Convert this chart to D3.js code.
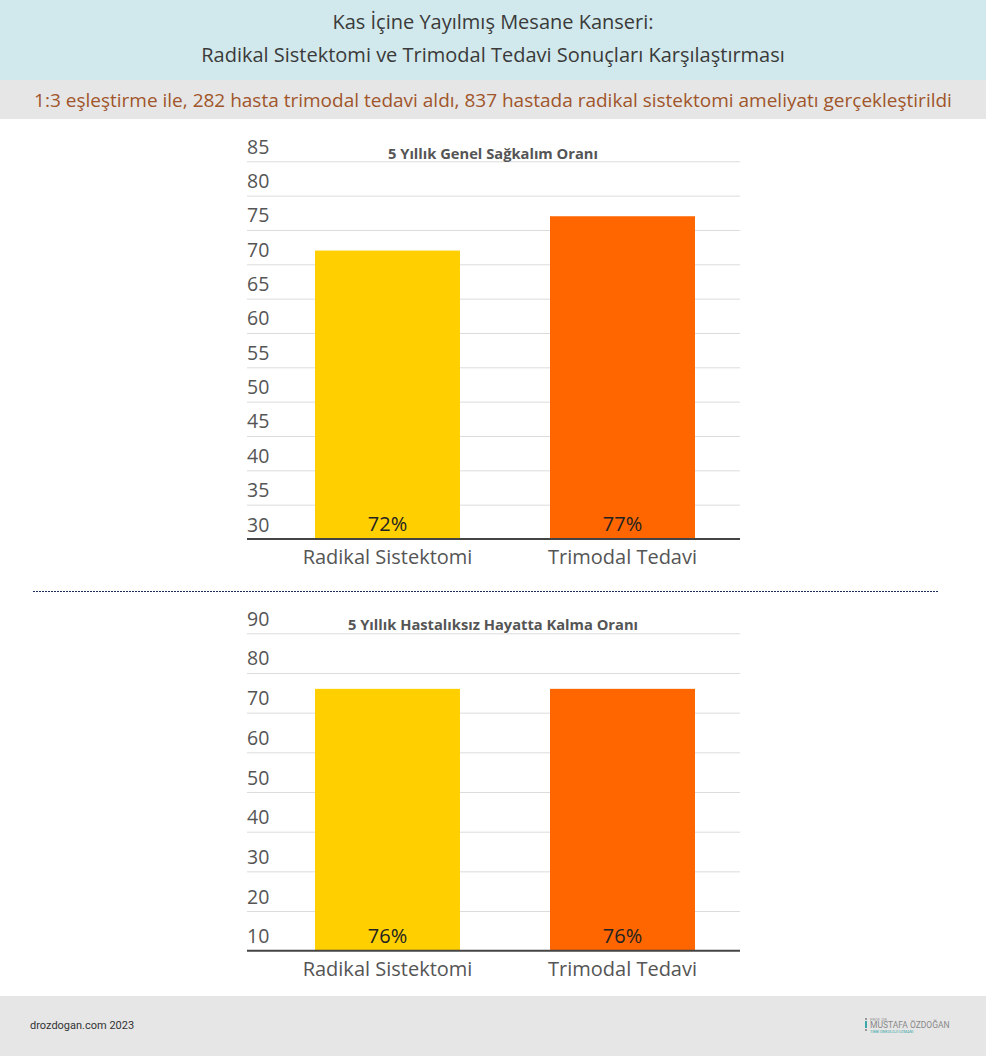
<!DOCTYPE html>
<html><head><meta charset="utf-8">
<script src="https://cdn.jsdelivr.net/npm/d3@7"></script>
<style>
html,body{margin:0;padding:0;background:#fff;}
svg{display:block;font-family:"Open Sans",sans-serif;}
</style></head>
<body>
<script>
const titleLines = ["Kas İçine Yayılmış Mesane Kanseri:", "Radikal Sistektomi ve Trimodal Tedavi Sonuçları Karşılaştırması"];
const subtitle = "1:3 eşleştirme ile, 282 hasta trimodal tedavi aldı, 837 hastada radikal sistektomi ameliyatı gerçekleştirildi";
const categories = ["Radikal Sistektomi", "Trimodal Tedavi"];
const colors = ["#ffcf00", "#ff6600"];
const osTitle = "5 Yıllık Genel Sağkalım Oranı";
const osValues = [72, 77];
const osTicks = [30, 35, 40, 45, 50, 55, 60, 65, 70, 75, 80, 85];
const dfsTitle = "5 Yıllık Hastalıksız Hayatta Kalma Oranı";
const dfsValues = [76, 76];
const dfsTicks = [10, 20, 30, 40, 50, 60, 70, 80, 90];
const footerText = "drozdogan.com 2023";

const W = 986, H = 1056;
const svg = d3.select("body").append("svg").attr("width", W).attr("height", H);

// header
svg.append("rect").attr("x",0).attr("y",0).attr("width",W).attr("height",80).attr("fill","#d1e9ec");
svg.append("rect").attr("x",0).attr("y",80).attr("width",W).attr("height",39).attr("fill","#e6e6e6");
titleLines.forEach((t,i)=>{
  svg.append("text").attr("x",493).attr("y",29+i*33).attr("text-anchor","middle")
    .attr("font-size",20).attr("fill","#3a3a3a").text(t);
});
svg.append("text").attr("x",493).attr("y",106.5).attr("text-anchor","middle")
  .attr("font-size",19).attr("fill","#a0552a").text(subtitle);

function drawChart(title, values, ticks, yTop, yBottom, titleY){
  const g = svg.append("g");
  const y = d3.scaleLinear().domain([ticks[0], ticks[ticks.length-1]]).range([yBottom, yTop]);
  const x = d3.scaleBand().domain(categories).range([270, 740]).paddingInner(0.383).paddingOuter(0.1915);
  // grid
  const axis = d3.axisLeft(y).tickValues(ticks).tickSize(0).tickFormat(d3.format("d"));
  const ag = g.append("g").attr("transform","translate(247,0)").call(axis);
  ag.select(".domain").remove();
  ag.selectAll(".tick line").attr("x1",0).attr("x2",493).attr("stroke","#dcdcdc").attr("stroke-width",1);
  ag.selectAll(".tick text").attr("x",0).attr("dy",-8).attr("text-anchor","start")
    .attr("font-size",19.5).attr("fill","#555").attr("font-family","Open Sans");
  ag.selectAll(".tick").filter(d=>d===ticks[0]).select("line").remove();
  // bars
  g.selectAll("rect.bar").data(values).join("rect").attr("class","bar")
    .attr("x",(d,i)=>x(categories[i])).attr("width",x.bandwidth())
    .attr("y",d=>y(d)).attr("height",d=>yBottom-y(d)).attr("fill",(d,i)=>colors[i]);
  // value labels
  g.selectAll("text.val").data(values).join("text").attr("class","val")
    .attr("x",(d,i)=>x(categories[i])+x.bandwidth()/2).attr("y",yBottom-8)
    .attr("text-anchor","middle").attr("font-size",20).attr("fill","#222").text(d=>d+"%");
  // x axis
  const xa = d3.axisBottom(x).tickSize(0);
  const xg = g.append("g").attr("transform",`translate(0,${yBottom})`).call(xa);
  xg.select(".domain").remove();
  xg.selectAll(".tick text").attr("dy",0).attr("y",25).attr("font-size",20).attr("fill","#555").attr("font-family","Open Sans");
  g.append("line").attr("x1",247).attr("x2",740).attr("y1",yBottom).attr("y2",yBottom).attr("stroke","#444").attr("stroke-width",2);
  // title
  g.append("text").attr("x",493).attr("y",titleY).attr("text-anchor","middle")
    .attr("font-size",14.7).attr("font-weight","bold").attr("fill","#555").text(title);
}

drawChart(osTitle, osValues, osTicks, 161.3, 539, 158.5);
drawChart(dfsTitle, dfsValues, dfsTicks, 633.3, 950.7, 629.5);

// separator
svg.append("line").attr("x1",33).attr("x2",939).attr("y1",591.5).attr("y2",591.5)
  .attr("stroke","#1f2d5c").attr("stroke-width",1).attr("stroke-dasharray","2,1");

// footer
svg.append("rect").attr("x",0).attr("y",996).attr("width",W).attr("height",60).attr("fill","#e6e6e6");
svg.append("text").attr("x",30).attr("y",1029).attr("font-size",11).attr("fill","#333")
  .attr("font-family","Roboto").text(footerText);
// logo
const lg = svg.append("g").attr("transform","translate(865,1018)");
lg.append("rect").attr("x",0).attr("y",0).attr("width",2).attr("height",2).attr("fill","#999");
lg.append("rect").attr("x",0).attr("y",3).attr("width",2).attr("height",7).attr("fill","#3aa8a8");
lg.append("rect").attr("x",0).attr("y",11).attr("width",2).attr("height",2).attr("fill","#999");
lg.append("text").attr("x",5).attr("y",3).attr("font-size",4).attr("fill","#999").attr("font-family","Roboto").text("PROF. DR.");
lg.append("text").attr("x",5).attr("y",10).attr("font-size",8.5).attr("fill","#888").attr("font-family","Roboto").text("MUSTAFA ÖZDOĞAN");
lg.append("text").attr("x",5).attr("y",14.5).attr("font-size",3.8).attr("fill","#3aa8a8").attr("font-family","Roboto").text("TIBBİ ONKOLOJİ UZMANI");
</script>
</body></html>
